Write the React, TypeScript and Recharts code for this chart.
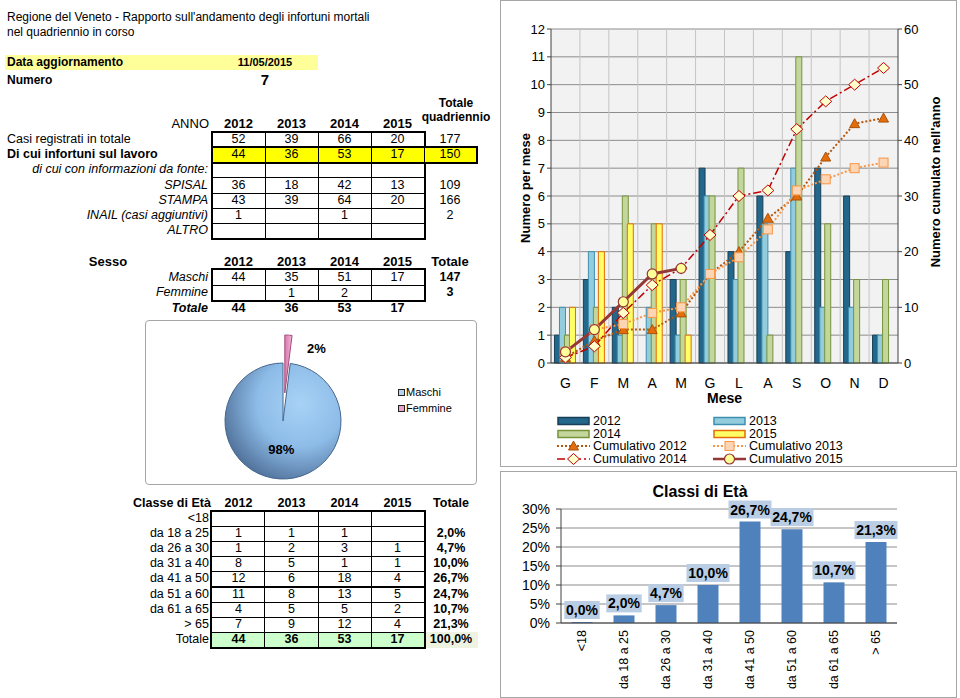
import React from "react"
import { Bar, BarChart, CartesianGrid, Cell, ComposedChart, LabelList, Line, Pie, PieChart, XAxis, YAxis } from "recharts"

const FONT = '"Liberation Sans", Arial, sans-serif'

// --- summary tables ---
const years = ["2012", "2013", "2014", "2015"]
const casiTotale = [52, 39, 66, 20]
const infortuniLavoro = [44, 36, 53, 17]
const spisal = [36, 18, 42, 13]
const stampa = [43, 39, 64, 20]
const inail = [1, null, 1, null]
const quadriennio = [177, 150, null, 109, 166, 2, null]
const maschi = [44, 35, 51, 17]
const femmine = [null, 1, 2, null]
const totaleSesso = [44, 36, 53, 17]
const sessoTotali = [147, 3]

// --- pie ---
const sexData = [
  { name: "Femmine", value: 3 },
  { name: "Maschi", value: 147 },
]

// --- monthly chart ---
const months = ["G", "F", "M", "A", "M", "G", "L", "A", "S", "O", "N", "D"]
const v2012 = [1, 3, 2, 0, 3, 7, 4, 6, 4, 7, 6, 1]
const v2013 = [2, 4, 1, 2, 1, 6, 3, 5, 7, 2, 2, 1]
const v2014 = [1, 2, 6, 5, 3, 6, 7, 1, 11, 5, 3, 3]
const v2015 = [2, 4, 5, 5, 1]
const cum2012 = [1, 4, 6, 6, 9, 16, 20, 26, 30, 37, 43, 44]
const cum2013 = [2, 6, 7, 9, 10, 16, 19, 24, 31, 33, 35, 36]
const cum2014 = [1, 3, 9, 14, 17, 23, 30, 31, 42, 47, 50, 53]
const cum2015 = [2, 6, 11, 16, 17]
const leftTicks = [0, 1, 2, 3, 4, 5, 6, 7, 8, 9, 10, 11, 12]
const rightTicks = [0, 10, 20, 30, 40, 50, 60]

// --- age classes ---
const ageClasses = ["<18", "da 18 a 25", "da 26 a 30", "da 31 a 40", "da 41 a 50", "da 51 a 60", "da 61 a 65", "> 65"]
const age2012 = [null, 1, 1, 8, 12, 11, 4, 7]
const age2013 = [null, 1, 2, 5, 6, 8, 5, 9]
const age2014 = [null, 1, 3, 1, 18, 13, 5, 12]
const age2015 = [null, null, 1, 1, 4, 5, 2, 4]
const agePct = [0.0, 2.0, 4.7, 10.0, 26.7, 24.7, 10.7, 21.3]
const ageTotals = [44, 36, 53, 17]
const pctTicks = [0, 5, 10, 15, 20, 25, 30]

const monthlyData = months.map((m, i) => ({
  month: m,
  y2012: v2012[i],
  y2013: v2013[i],
  y2014: v2014[i],
  y2015: v2015[i] ?? null,
  c2012: cum2012[i],
  c2013: cum2013[i],
  c2014: cum2014[i],
  c2015: cum2015[i] ?? null,
}))

const ageData = ageClasses.map((c, i) => ({ cls: c, pct: agePct[i] }))

const fmtPct = (v: number) => v.toFixed(1).replace(".", ",") + "%"

const COLS = [212, 265, 318, 371, 424]
const colCenter = (i: number) => (COLS[i] + COLS[i + 1]) / 2
const TOT_X = 450

function T({ x, y, children, align = "left", bold = false, italic = false, size = 12, lh }: any) {
  const lineH = lh ?? size * 1.2
  const style: React.CSSProperties = {
    position: "absolute",
    top: y - lineH / 2,
    fontSize: size,
    lineHeight: `${lineH}px`,
    fontWeight: bold ? 700 : 400,
    fontStyle: italic ? "italic" : "normal",
    whiteSpace: "nowrap",
  }
  if (align === "left") style.left = x
  else if (align === "right") style.right = 960 - x
  else {
    style.left = x
    style.transform = "translateX(-50%)"
  }
  return <div style={style}>{children}</div>
}

function Box({ x1, y1, x2, y2, bg, border = "1px solid #000" }: any) {
  return (
    <div
      style={{
        position: "absolute",
        left: x1,
        top: y1,
        width: x2 - x1,
        height: y2 - y1,
        border,
        background: bg,
        boxSizing: "border-box",
      }}
    />
  )
}

function Grid({ top, rowH, rows, cols = COLS, fills = [] as any[] }: any) {
  const out: any[] = []
  for (let r = 0; r < rows; r++) {
    for (let c = 0; c < cols.length - 1; c++) {
      out.push(
        <Box
          key={`${r}-${c}`}
          x1={cols[c]}
          y1={top + r * rowH}
          x2={cols[c + 1] + 1}
          y2={top + (r + 1) * rowH + 1}
          bg={fills[r]}
        />
      )
    }
  }
  out.push(
    <Box key="outer" x1={cols[0] - 1} y1={top - 1} x2={cols[cols.length - 1] + 2} y2={top + rows * rowH + 2} border="2px solid #000" />
  )
  return <>{out}</>
}

function LeftPanel() {
  const rowH = 15.15
  const t1 = 132
  const rowY = (r: number) => t1 + r * rowH + rowH / 2
  const t1Rows = [casiTotale, infortuniLavoro, null, spisal, stampa, inail, null]
  const sTop = 269
  const aTop = 511
  const aRowH = 15.1
  const aRowY = (r: number) => aTop + r * aRowH + aRowH / 2
  return (
    <>
      <T x={7} y={17}>Regione del Veneto - Rapporto sull'andamento degli infortuni mortali</T>
      <T x={7} y={32}>nel quadriennio in corso</T>
      <div style={{ position: "absolute", left: 5, top: 55, width: 313, height: 15, background: "#FFFF99" }} />
      <T x={7} y={62} bold>Data aggiornamento</T>
      <T x={265} y={63} bold align="center" size={11}>11/05/2015</T>
      <T x={7} y={80} bold>Numero</T>
      <T x={265} y={80} bold align="center" size={15}>7</T>

      {/* table 1 */}
      <T x={209} y={124} align="right" size={13}>ANNO</T>
      {years.map((yr, i) => (
        <T key={yr} x={colCenter(i)} y={124} align="center" bold size={13}>{yr}</T>
      ))}
      <T x={456} y={103} align="center" bold>Totale</T>
      <T x={456} y={117} align="center" bold>quadriennio</T>
      <Grid top={t1} rowH={rowH} rows={7} />
      <Box x1={211} y1={t1 + rowH - 1} x2={478} y2={t1 + 2 * rowH + 2} bg="#FFFF00" border="2px solid #000" />
      {[265, 318, 371, 424].map((x) => (
        <div key={x} style={{ position: "absolute", left: x, top: t1 + rowH, width: 1, height: rowH, background: "#000" }} />
      ))}
      <T x={7} y={rowY(0)} size={12.5}>Casi registrati in totale</T>
      <T x={7} y={rowY(1)} bold size={12.5}>Di cui infortuni sul lavoro</T>
      <T x={208} y={rowY(2)} align="right" italic size={12.5}>di cui con informazioni da fonte:</T>
      <T x={208} y={rowY(3)} align="right" italic size={12.5}>SPISAL</T>
      <T x={208} y={rowY(4)} align="right" italic size={12.5}>STAMPA</T>
      <T x={208} y={rowY(5)} align="right" italic size={12.5}>INAIL (casi aggiuntivi)</T>
      <T x={208} y={rowY(6)} align="right" italic size={12.5}>ALTRO</T>
      {t1Rows.map((row, r) =>
        row
          ? row.map((v, c) =>
              v == null ? null : (
                <T key={`${r}-${c}`} x={colCenter(c)} y={rowY(r)} align="center" size={12.5}>{v}</T>
              )
            )
          : null
      )}
      {quadriennio.map((v, r) =>
        v == null ? null : (
          <T key={`q${r}`} x={TOT_X} y={rowY(r)} align="center" size={12.5}>{v}</T>
        )
      )}

      {/* sesso */}
      <T x={108} y={262} align="center" bold size={13}>Sesso</T>
      {years.map((yr, i) => (
        <T key={yr} x={colCenter(i)} y={262} align="center" bold size={13}>{yr}</T>
      ))}
      <T x={450} y={262} align="center" bold size={13}>Totale</T>
      <Grid top={sTop} rowH={15.5} rows={2} />
      <T x={208} y={277} align="right" italic size={12.5}>Maschi</T>
      <T x={208} y={292} align="right" italic size={12.5}>Femmine</T>
      <T x={208} y={308} align="right" italic bold size={12.5}>Totale</T>
      {maschi.map((v, c) => (
        <T key={`m${c}`} x={colCenter(c)} y={277} align="center" size={12.5}>{v}</T>
      ))}
      {femmine.map((v, c) =>
        v == null ? null : (
          <T key={`f${c}`} x={colCenter(c)} y={293} align="center" size={12.5}>{v}</T>
        )
      )}
      {totaleSesso.map((v, c) => (
        <T key={`t${c}`} x={colCenter(c)} y={308} align="center" bold size={12.5}>{v}</T>
      ))}
      <T x={450} y={277} align="center" bold size={12.5}>{sessoTotali[0]}</T>
      <T x={450} y={292} align="center" bold size={12.5}>{sessoTotali[1]}</T>

      {/* classi di eta */}
      <T x={172} y={503} align="center" bold size={12.5}>Classe di Età</T>
      {years.map((yr, i) => (
        <T key={yr} x={colCenter(i)} y={503} align="center" bold size={12.5}>{yr}</T>
      ))}
      <T x={451} y={503} align="center" bold size={12.5}>Totale</T>
      <Grid top={aTop} rowH={aRowH} rows={9} cols={[211, 264, 318, 371, 424]} fills={[, , , , , , , , "#CCFFCC"]} />
      <div style={{ position: "absolute", left: 426, top: aTop + 8 * aRowH, width: 52, height: aRowH + 1, background: "#EEF3E1" }} />
      {ageClasses.map((c, r) => (
        <T key={c} x={209} y={aRowY(r)} align="right" size={12.5}>{c}</T>
      ))}
      <T x={209} y={aRowY(8)} align="right" size={12.5}>Totale</T>
      {[age2012, age2013, age2014, age2015].map((col, c) =>
        col.map((v, r) =>
          v == null ? null : (
            <T key={`a${c}-${r}`} x={colCenter(c)} y={aRowY(r)} align="center" size={12.5}>{v}</T>
          )
        )
      )}
      {agePct.map((v, r) =>
        r === 0 ? null : (
          <T key={`p${r}`} x={451} y={aRowY(r)} align="center" bold size={12.5}>{fmtPct(v)}</T>
        )
      )}
      {ageTotals.map((v, c) => (
        <T key={`at${c}`} x={colCenter(c)} y={aRowY(8)} align="center" bold size={12.5}>{v}</T>
      ))}
      <T x={451} y={aRowY(8)} align="center" bold size={12.5}>100,0%</T>
    </>
  )
}

function SexPie() {
  const R = 58
  const renderMain = (p: any) => {
    if (p.name !== "Maschi") return null
    const rad = (Math.PI / 180) * p.midAngle
    return (
      <text x={p.cx + 0.5 * R * Math.cos(rad)} y={p.cy - 0.5 * R * Math.sin(rad)} textAnchor="middle" dominantBaseline="central" fontSize={13} fontWeight={700} fill="#000">
        {Math.round(p.percent * 100)}%
      </text>
    )
  }
  const renderOut = (p: any) => {
    if (p.name !== "Femmine") return null
    const rad = (Math.PI / 180) * p.midAngle
    return (
      <text x={p.cx + R * Math.cos(rad) + 28} y={p.cy - R * Math.sin(rad) + 13} textAnchor="middle" dominantBaseline="central" fontSize={13} fontWeight={700} fill="#000">
        {Math.round(p.percent * 100)}%
      </text>
    )
  }
  return (
    <>
      <div style={{ position: "absolute", left: 145, top: 320, width: 332, height: 165, border: "1px solid #A6A6A6", borderRadius: 4, boxSizing: "border-box" }}>
        <PieChart width={330} height={163}>
          <defs>
            <radialGradient id="pieBlue" cx="65%" cy="35%" r="75%">
              <stop offset="0%" stopColor="#A8D2F6" />
              <stop offset="50%" stopColor="#8DBCE8" />
              <stop offset="100%" stopColor="#4A6A92" />
            </radialGradient>
            <linearGradient id="piePink" x1="0" y1="0" x2="1" y2="0">
              <stop offset="0%" stopColor="#D97BAE" />
              <stop offset="100%" stopColor="#F3B6D6" />
            </linearGradient>
          </defs>
          <Pie data={sexData} dataKey="value" nameKey="name" cx={132} cy={95} outerRadius={R} startAngle={90} endAngle={-270} isAnimationActive={false} label={renderMain} labelLine={false}>
            {sexData.map((d) => (
              <Cell key={d.name} fill={d.name === "Maschi" ? "url(#pieBlue)" : "none"} stroke={d.name === "Maschi" ? "#46668C" : "none"} />
            ))}
          </Pie>
          <Pie data={sexData} dataKey="value" nameKey="name" cx={133.8} cy={67} outerRadius={R} startAngle={90} endAngle={-270} isAnimationActive={false} label={renderOut} labelLine={false}>
            {sexData.map((d) => (
              <Cell key={d.name} fill={d.name === "Femmine" ? "url(#piePink)" : "none"} stroke={d.name === "Femmine" ? "#A34D7C" : "none"} />
            ))}
          </Pie>
        </PieChart>
      </div>
      {[
        { label: "Maschi", fill: "#B4D3EF", y: 393 },
        { label: "Femmine", fill: "#EBA3C9", y: 409 },
      ].map((it) => (
        <React.Fragment key={it.label}>
          <div style={{ position: "absolute", left: 398, top: it.y - 4, width: 7, height: 7, background: it.fill, border: "1.5px solid #222", boxSizing: "border-box" }} />
          <T x={406} y={it.y} size={11}>{it.label}</T>
        </React.Fragment>
      ))}
    </>
  )
}

const Triangle = (p: any) =>
  p.cx == null || p.value == null ? <g key={p.key} /> : (
    <path key={p.key} d={`M${p.cx},${p.cy - 5} L${p.cx + 5},${p.cy + 4} L${p.cx - 5},${p.cy + 4} Z`} fill="#E46C0A" stroke="#A8520A" strokeWidth={1} />
  )
const Square = (p: any) =>
  p.cx == null || p.value == null ? <g key={p.key} /> : (
    <rect key={p.key} x={p.cx - 4.5} y={p.cy - 4.5} width={9} height={9} fill="#FCD5B5" stroke="#F79646" strokeWidth={1} />
  )
const Diamond = (p: any) =>
  p.cx == null || p.value == null ? <g key={p.key} /> : (
    <path key={p.key} d={`M${p.cx},${p.cy - 5.5} L${p.cx + 6},${p.cy} L${p.cx},${p.cy + 5.5} L${p.cx - 6},${p.cy} Z`} fill="#FFFFCC" stroke="#C00000" strokeWidth={1} />
  )
const Circle = (p: any) =>
  p.cx == null || p.value == null ? <g key={p.key} /> : (
    <circle key={p.key} cx={p.cx} cy={p.cy} r={5} fill="#FFFF99" stroke="#953735" strokeWidth={1.2} />
  )

const barStyles = [
  { key: "y2012", fill: "#23678B", stroke: "#173F58", label: "2012" },
  { key: "y2013", fill: "#93CDDD", stroke: "#3E8FB0", label: "2013" },
  { key: "y2014", fill: "#C3D69B", stroke: "#77933C", label: "2014" },
  { key: "y2015", fill: "#FFFF66", stroke: "#E36C09", label: "2015" },
]
const lineStyles = [
  { key: "c2012", stroke: "#B4560C", dash: "2 2", width: 2, dot: Triangle, label: "Cumulativo 2012" },
  { key: "c2013", stroke: "#F79646", dash: "2 2", width: 2, dot: Square, label: "Cumulativo 2013" },
  { key: "c2014", stroke: "#C00000", dash: "8 3 2 3", width: 1.5, dot: Diamond, label: "Cumulativo 2014" },
  { key: "c2015", stroke: "#953735", dash: undefined, width: 3, dot: Circle, label: "Cumulativo 2015" },
]

function ComboLegend() {
  const xs = [557, 713]
  const ys = [421, 433.5, 446, 458.5]
  const items: any[] = [...barStyles.map((b) => ({ ...b, kind: "bar" })), ...lineStyles.map((l) => ({ ...l, kind: "line" }))]
  return (
    <>
      {items.map((it, i) => {
        const x = xs[i % 2]
        const y = ys[Math.floor(i / 2)]
        const Dot = it.dot
        return (
          <React.Fragment key={it.label}>
            <svg style={{ position: "absolute", left: x, top: y - 6 }} width={34} height={12}>
              {it.kind === "bar" ? (
                <rect x={1} y={2.5} width={31} height={7} fill={it.fill} stroke={it.stroke} strokeWidth={1.5} />
              ) : (
                <>
                  <line x1={0} y1={6} x2={33} y2={6} stroke={it.stroke} strokeWidth={Math.min(it.width, 2.5)} strokeDasharray={it.dash} />
                  <Dot cx={16.5} cy={6} value={1} />
                </>
              )}
            </svg>
            <T x={x + 36} y={y} size={12.5} lh={12}>{it.label}</T>
          </React.Fragment>
        )
      })}
    </>
  )
}

function MonthlyChart() {
  const tick = { fill: "#000", fontSize: 13 }
  return (
    <>
      <div style={{ position: "absolute", left: 500, top: 0, width: 457, height: 467, border: "1px solid #A6A6A6", boxSizing: "border-box" }}>
        <ComposedChart width={455} height={465} data={monthlyData} margin={{ top: 28, right: 0, bottom: 63, left: 0 }} barCategoryGap="12%" barGap={-1}>
          <CartesianGrid yAxisId="left" vertical={false} stroke="#8C8C8C" fill="#F2F2F2" />
          <CartesianGrid
            yAxisId="left"
            horizontal={false}
            stroke="#C4C4C4"
            verticalCoordinatesGenerator={({ offset }: any) =>
              months.map((_, i) => offset.left + ((i + 1) * offset.width) / months.length).slice(0, -1)
            }
          />
          <XAxis
            dataKey="month"
            tick={{ fill: "#000", fontSize: 14 }}
            axisLine={{ stroke: "#404040" }}
            tickLine={false}
            tickMargin={9}
            height={40}
            label={{ value: "Mese", position: "insideBottom", offset: 0, style: { fontWeight: 700, fontSize: 14, fill: "#000" } }}
          />
          <YAxis
            yAxisId="left"
            domain={[0, 12]}
            ticks={leftTicks}
            interval={0}
            width={50}
            tick={tick}
            axisLine={{ stroke: "#404040" }}
            tickLine={{ stroke: "#404040" }}
            tickSize={4}
            label={{ value: "Numero per mese", angle: -90, position: "insideLeft", offset: 24, dy: -8, style: { textAnchor: "middle", fontWeight: 700, fontSize: 13, fill: "#000" } }}
          />
          <YAxis
            yAxisId="right"
            orientation="right"
            domain={[0, 60]}
            ticks={rightTicks}
            interval={0}
            width={58}
            tick={tick}
            axisLine={{ stroke: "#404040" }}
            tickLine={{ stroke: "#404040" }}
            tickSize={4}
            label={{ value: "Numero cumulato nell'anno", angle: -90, position: "insideRight", offset: 21, dy: -14, style: { textAnchor: "middle", fontWeight: 700, fontSize: 13, fill: "#000" } }}
          />
          {barStyles.map((b) => (
            <Bar key={b.key} yAxisId="left" dataKey={b.key} fill={b.fill} stroke={b.stroke} strokeWidth={1} isAnimationActive={false} />
          ))}
          {lineStyles.map((l) => (
            <Line
              key={l.key}
              yAxisId="right"
              type="linear"
              dataKey={l.key}
              stroke={l.stroke}
              strokeWidth={l.width}
              strokeDasharray={l.dash}
              dot={l.dot}
              activeDot={false}
              isAnimationActive={false}
            />
          ))}
        </ComposedChart>
      </div>
      <ComboLegend />
    </>
  )
}

const AgeLabel = (p: any) => {
  const cx = p.x + p.width / 2
  const cy = p.y - 12
  const txt = fmtPct(Number(p.value))
  const w = txt.length * 7.6 + 5
  return (
    <g>
      <rect x={cx - w / 2} y={cy - 9} width={w} height={18} fill="#B9CDE5" />
      <text x={cx} y={cy} textAnchor="middle" dominantBaseline="central" fontSize={14} fontWeight={700} fill="#000">
        {txt}
      </text>
    </g>
  )
}

const AgeTick = (p: any) => (
  <text x={p.x} y={p.y} transform={`rotate(-90 ${p.x} ${p.y})`} textAnchor="end" dominantBaseline="central" fontSize={12.5} fill="#000">
    {p.payload.value}
  </text>
)

function AgeChart() {
  return (
    <div style={{ position: "absolute", left: 500, top: 471, width: 457, height: 227, border: "1px solid #A6A6A6", boxSizing: "border-box" }}>
      <div style={{ position: "absolute", left: 0, width: 398, top: 10, textAlign: "center", fontSize: 16, fontWeight: 700, lineHeight: "20px" }}>Classi di Età</div>
      <BarChart width={455} height={225} data={ageData} margin={{ top: 37, right: 59, bottom: 0, left: 0 }} barCategoryGap="25%">
        <CartesianGrid vertical={false} stroke="#8C8C8C" />
        <XAxis dataKey="cls" interval={0} height={74} tick={<AgeTick />} tickLine={false} tickSize={0} tickMargin={7} axisLine={{ stroke: "#404040" }} />
        <YAxis
          domain={[0, 30]}
          ticks={pctTicks}
          interval={0}
          width={60}
          tickFormatter={(v) => `${v}%`}
          tick={{ fill: "#000", fontSize: 14 }}
          axisLine={{ stroke: "#404040" }}
          tickLine={{ stroke: "#404040" }}
          tickSize={5}
          tickMargin={6}
        />
        <Bar dataKey="pct" fill="#4F81BD" minPointSize={1} isAnimationActive={false}>
          <LabelList dataKey="pct" content={AgeLabel} />
        </Bar>
      </BarChart>
    </div>
  )
}

export default function App() {
  return (
    <div style={{ position: "absolute", left: 0, top: 0, width: 960, height: 698, background: "#fff", overflow: "hidden", fontFamily: FONT, color: "#000" }}>
      <LeftPanel />
      <SexPie />
      <MonthlyChart />
      <AgeChart />
    </div>
  )
}
